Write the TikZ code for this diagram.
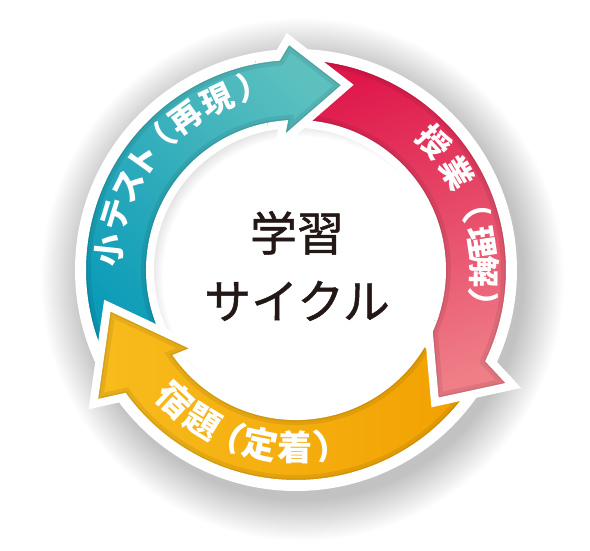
\documentclass[tikz,border=0pt]{standalone}
\usepackage{fontspec}
\newfontfamily\jp{Noto Sans CJK JP}
\newfontfamily\jpmid[FakeBold=1]{Noto Sans CJK JP}
\usetikzlibrary{calc}

\definecolor{tealdark}{HTML}{0A9BB8}
\definecolor{teallight}{HTML}{5CC0BF}
\definecolor{crimson}{HTML}{DF174B}
\definecolor{rosepink}{HTML}{EF7E87}
\definecolor{sunyellow}{HTML}{F8BC1D}
\definecolor{deeporange}{HTML}{F1A000}
\definecolor{ink}{HTML}{231815}
\colorlet{shadowgrey}{black!24}
\colorlet{diskgrey}{black!18}

\pgfdeclareradialshading{ringshadow}{\pgfpointorigin}{color(0bp)=(shadowgrey); color(21bp)=(shadowgrey); color(25bp)=(white)}
\pgfdeclareradialshading{diskshadow}{\pgfpointorigin}{color(0bp)=(white); color(21.9bp)=(white); color(25bp)=(diskgrey)}

\def\rin{146}
\def\rout{214}
\def\rtip{192}
% start, head base, tip, head inner radius, head outer radius
\newcommand\cyclepath[5]{({#1+3}:\rin) arc[start angle={#1+3}, end angle=#2, radius=\rin]
  -- ({#2+2.5}:#4) -- (#3:\rtip) -- ({#2-3}:#5) -- (#2:\rout)
  arc[start angle=#2, end angle={#1-3}, radius=\rout] -- cycle}
\newcommand\cyclearrow[6]{%
  \shade[#1] \cyclepath{#2}{#3}{#4}{#5}{#6};
  \begin{scope}
    \clip \cyclepath{#2}{#3}{#4}{#5}{#6};
    \foreach \w in {18,11,5}
      \draw[black, opacity=.07, line width=\w] \cyclepath{#2}{#3}{#4}{#5}{#6};
  \end{scope}
  \draw[white, line width=8, line join=miter] \cyclepath{#2}{#3}{#4}{#5}{#6};
}

\begin{document}
\begin{tikzpicture}[x=1pt, y=1pt,
    tealshade/.style={bottom color=tealdark, top color=teallight, shading angle=-45},
    pinkshade/.style={top color=crimson, bottom color=rosepink, shading angle=20},
    orangeshade/.style={left color=sunyellow, right color=deeporange},
    ringtext/.style={font=\jp\bfseries\fontsize{#1}{#1}\selectfont, text=white,
      inner sep=0pt, text height=0.88em, text depth=0.12em}]

  \useasboundingbox (0,0) rectangle (590,550);
  \fill[white] (0,0) rectangle (590,550);

  \begin{scope}[shift={(296,280)}]
    \shade[shading=ringshadow] (6,-9) circle[radius=262];
    \fill[white] (0,0) circle[radius=221];
    \begin{scope}
      \clip (0,0) circle[radius=\rin];
      \fill[diskgrey] (0,0) circle[radius=\rin];
      \shade[shading=diskshadow] (7,-7) circle[radius=160];
    \end{scope}

    \cyclearrow{tealshade}{212}{95}{74.5}{127}{231}
    \cyclearrow{pinkshade}{91}{-25}{-43.6}{143}{246}
    \cyclearrow{orangeshade}{-27}{-143.5}{-169.3}{125}{243}

    % heads that lie over the next arrow
    \begin{scope}
      \clip (0,0) -- (101:300) arc[start angle=101, end angle=60, radius=300] -- cycle;
      \cyclearrow{tealshade}{212}{95}{74.5}{127}{231}
    \end{scope}
    \begin{scope}
      \clip (0,0) -- (-20:300) arc[start angle=-20, end angle=-55, radius=300] -- cycle;
      \cyclearrow{pinkshade}{91}{-25}{-43.6}{143}{246}
    \end{scope}

    \foreach \a/\ch [count=\i] in {174/小,163/テ,153.5/ス,144.5/ト,137/（,126/再,115/現,103/）}
      \node[ringtext=32, rotate=\a-90] (quiz\i) at (\a:180) {\ch};
    \foreach \a/\ch [count=\i] in {42.6/授,30.9/業,19.9/（,8.4/理,-0.6/解,-10.8/）}
      \node[ringtext=32, rotate=\a-90] (lesson\i) at (\a:180) {\ch};
    \foreach \a/\ch [count=\i] in {227/宿,238.5/題,247.2/（,258.4/定,269.7/着,281.8/）}
      \node[ringtext=35, rotate=\a+90] (homework\i) at (\a:187) {\ch};

    \node[font=\jpmid\fontsize{47}{68}\selectfont, text=ink, align=center] (title) at (1,4) {学習\\サイクル};
  \end{scope}
\end{tikzpicture}
\end{document}
